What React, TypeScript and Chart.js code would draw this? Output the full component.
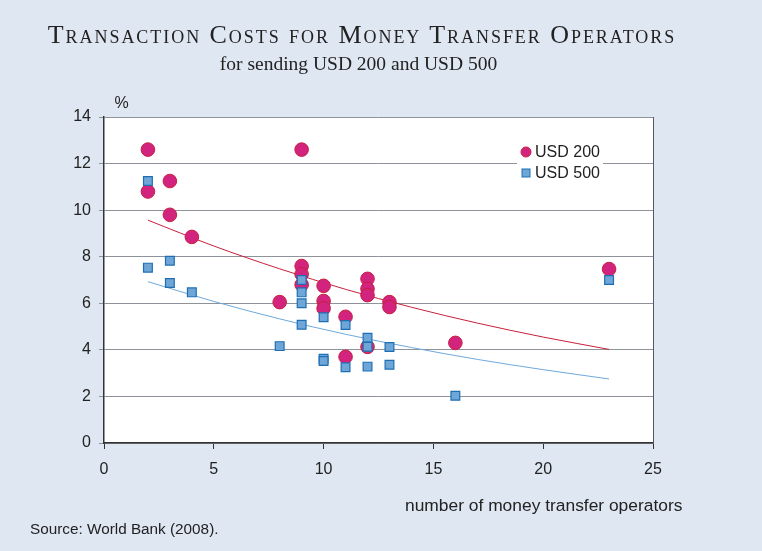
import { useEffect, useRef } from "react";
import { Chart, registerables } from "chart.js";

Chart.register(...registerables);

const TITLE = "Transaction Costs for Money Transfer Operators";
const SUBTITLE = "for sending USD 200 and USD 500";
const Y_UNIT = "%";
const X_TITLE = "number of money transfer operators";
const SOURCE = "Source: World Bank (2008).";
const SERIES_LABELS = ["USD 200", "USD 500"];

const usd200X = [2, 2, 3, 3, 4, 8, 9, 9, 9, 9, 10, 10, 10, 11, 11, 12, 12, 12, 12, 13, 13, 16, 23];
const usd200Y = [12.6, 10.8, 11.25, 9.8, 8.85, 6.05, 12.6, 7.6, 7.25, 6.8, 6.75, 6.1, 5.78, 5.42, 3.7, 7.05, 6.62, 6.35, 4.13, 6.05, 5.84, 4.3, 7.47];
const usd500X = [2, 2, 3, 3, 4, 8, 9, 9, 9, 9, 10, 10, 10, 11, 11, 12, 12, 12, 13, 13, 16, 23];
const usd500Y = [11.25, 7.53, 7.83, 6.87, 6.47, 4.16, 7.0, 6.47, 6.0, 5.08, 5.4, 3.62, 3.52, 5.07, 3.25, 4.52, 4.13, 3.28, 4.12, 3.36, 2.03, 7.0];
const trendX = [2, 5, 8, 11, 14, 17, 20, 23];
const trend200 = [9.57, 8.46, 7.48, 6.6, 5.83, 5.15, 4.55, 4.02];
const trend500 = [6.93, 6.08, 5.33, 4.67, 4.1, 3.59, 3.15, 2.75];
const X_MIN = 0, X_MAX = 25, X_STEP = 5;
const Y_MIN = 0, Y_MAX = 14, Y_STEP = 2;

const BG = "#dfe7f3";
const C200_FILL = "#d2237f";
const C200_BORDER = "#c8203c";
const C500_FILL = "#6fa6d8";
const C500_BORDER = "#1e6eb4";
const SANS = "'Liberation Sans', Arial, sans-serif";
const SERIF = "'Liberation Serif', 'Times New Roman', serif";

const zip = (xs: number[], ys: number[]) => xs.map((x, i) => ({ x, y: ys[i] }));

export default function App() {
  const ref = useRef<HTMLCanvasElement | null>(null);

  useEffect(() => {
    document.body.style.margin = "0";
    const canvas = ref.current;
    if (!canvas) return;

    const decor = {
      id: "decor",
      beforeDraw(chart: any) {
        const { ctx, chartArea } = chart;
        ctx.save();
        ctx.fillStyle = "#ffffff";
        ctx.fillRect(chartArea.left, chartArea.top, chartArea.right - chartArea.left, chartArea.bottom - chartArea.top);
        ctx.restore();
      },
      afterDraw(chart: any) {
        const { ctx, chartArea } = chart;
        ctx.save();
        // right border
        ctx.strokeStyle = "#555a60";
        ctx.lineWidth = 1;
        ctx.beginPath();
        ctx.moveTo(chartArea.right + 0.5, chartArea.top);
        ctx.lineTo(chartArea.right + 0.5, chartArea.bottom);
        ctx.stroke();

        // legend
        const lx = chartArea.right - 136;
        const ly = chartArea.top + 24;
        ctx.fillStyle = "#ffffff";
        ctx.fillRect(lx, ly, 86, 44);
        ctx.font = `16px ${SANS}`;
        ctx.textBaseline = "middle";
        ctx.textAlign = "left";
        const ds = chart.data.datasets;
        ctx.beginPath();
        ctx.arc(lx + 9, ly + 11, 5, 0, Math.PI * 2);
        ctx.fillStyle = C200_FILL;
        ctx.fill();
        ctx.strokeStyle = C200_BORDER;
        ctx.lineWidth = 1;
        ctx.stroke();
        ctx.fillStyle = "#222222";
        ctx.fillText(ds[1].label, lx + 18, ly + 12);
        ctx.fillStyle = C500_FILL;
        ctx.fillRect(lx + 5, ly + 28, 8, 8);
        ctx.strokeStyle = C500_BORDER;
        ctx.strokeRect(lx + 5, ly + 28, 8, 8);
        ctx.fillStyle = "#222222";
        ctx.fillText(ds[0].label, lx + 18, ly + 33);

        // texts
        ctx.fillStyle = "#222222";
        ctx.textBaseline = "alphabetic";
        ctx.font = `16px ${SANS}`;
        ctx.textAlign = "center";
        ctx.fillText(Y_UNIT, 121.5, 108);
        ctx.textAlign = "left";
        ctx.font = `17.4px ${SANS}`;
        ctx.fillText(X_TITLE, 405, 510.5);
        ctx.font = `15.3px ${SANS}`;
        ctx.fillText(SOURCE, 30, 534);
        ctx.restore();
      },
    };

    const chart = new Chart(canvas, {
      type: "scatter",
      data: {
        datasets: [
          {
            label: SERIES_LABELS[1],
            data: zip(usd500X, usd500Y),
            pointStyle: "rect",
            pointRadius: 6.2,
            backgroundColor: C500_FILL,
            borderColor: C500_BORDER,
            borderWidth: 1.2,
            order: 0,
          },
          {
            label: SERIES_LABELS[0],
            data: zip(usd200X, usd200Y),
            pointStyle: "circle",
            pointRadius: 6.8,
            backgroundColor: C200_FILL,
            borderColor: C200_BORDER,
            borderWidth: 1,
            order: 1,
          },
          {
            label: "trend 200",
            data: zip(trendX, trend200),
            showLine: true,
            pointRadius: 0,
            borderColor: "#c8203c",
            borderWidth: 1,
            cubicInterpolationMode: "monotone",
            order: 2,
          },
          {
            label: "trend 500",
            data: zip(trendX, trend500),
            showLine: true,
            pointRadius: 0,
            borderColor: "#6fa9dc",
            borderWidth: 1,
            cubicInterpolationMode: "monotone",
            order: 3,
          },
        ],
      },
      options: {
        responsive: false,
        animation: false,
        devicePixelRatio: 1,
        layout: { padding: { top: 117, right: 109, left: 0, bottom: 0 } },
        plugins: { legend: { display: false }, tooltip: { enabled: false }, title: { display: false } },
        scales: {
          x: {
            type: "linear",
            min: X_MIN,
            max: X_MAX,
            ticks: { stepSize: X_STEP, color: "#222222", font: { family: SANS, size: 16 }, padding: 11 },
            grid: { drawOnChartArea: false, drawTicks: true, tickLength: 6, color: "#333333", lineWidth: 1 },
            border: { display: true, color: "#333333", width: 1.5 },
            afterFit: (s: any) => { s.height = 108; },
          },
          y: {
            type: "linear",
            min: Y_MIN,
            max: Y_MAX,
            ticks: { stepSize: Y_STEP, color: "#222222", font: { family: SANS, size: 16 }, padding: 8 },
            grid: { drawOnChartArea: true, drawTicks: true, tickLength: 5, color: "#8e9399", lineWidth: 1 },
            border: { display: true, color: "#333333", width: 1.5 },
            afterFit: (s: any) => { s.width = 104; },
          },
        },
      },
      plugins: [decor],
    } as any);

    return () => chart.destroy();
  }, []);

  return (
    <div style={{ position: "relative", width: 762, height: 551, background: BG, overflow: "hidden" }}>
      <canvas ref={ref} width={762} height={551} style={{ position: "absolute", left: 0, top: 0 }} />
      <div
        style={{
          position: "absolute",
          left: 2,
          width: 720,
          top: 22,
          textAlign: "center",
          fontFamily: SERIF,
          fontVariant: "small-caps",
          fontSize: 26,
          letterSpacing: "1.95px",
          lineHeight: 1,
          color: "#222222",
          whiteSpace: "nowrap",
        }}
      >
        {TITLE}
      </div>
      <div
        style={{
          position: "absolute",
          left: 0,
          width: 717,
          top: 53.5,
          textAlign: "center",
          fontFamily: SERIF,
          fontSize: 19.5,
          lineHeight: 1,
          color: "#222222",
          whiteSpace: "nowrap",
        }}
      >
        {SUBTITLE}
      </div>
    </div>
  );
}
